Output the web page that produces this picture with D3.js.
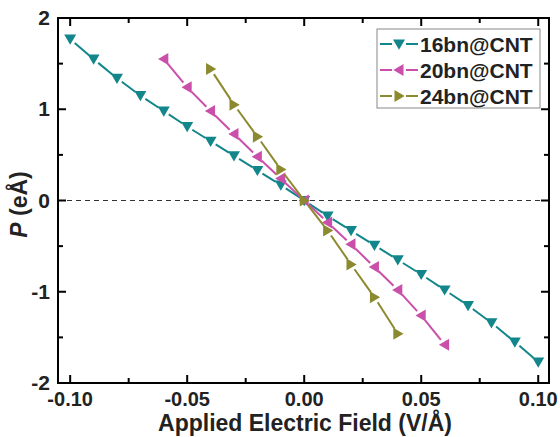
<!DOCTYPE html>
<html><head><meta charset="utf-8">
<script src="https://cdn.jsdelivr.net/npm/d3@7"></script>
<style>body{margin:0;background:#fff}svg{display:block}text{font-family:"Liberation Sans",Arial,sans-serif;font-weight:bold}</style>
</head><body><svg id="c" width="560" height="437"></svg>
<script>
const fields16 = [-0.10,-0.09,-0.08,-0.07,-0.06,-0.05,-0.04,-0.03,-0.02,-0.01,0,0.01,0.02,0.03,0.04,0.05,0.06,0.07,0.08,0.09,0.10];
const pol16 = [1.77,1.55,1.34,1.15,0.98,0.81,0.65,0.49,0.33,0.17,0,-0.17,-0.33,-0.49,-0.65,-0.81,-0.98,-1.15,-1.34,-1.55,-1.77];
const fields20 = [-0.06,-0.05,-0.04,-0.03,-0.02,-0.01,0,0.01,0.02,0.03,0.04,0.05,0.06];
const pol20 = [1.55,1.24,0.98,0.73,0.48,0.24,0,-0.24,-0.48,-0.73,-0.98,-1.26,-1.58];
const fields24 = [-0.04,-0.03,-0.02,-0.01,0,0.01,0.02,0.03,0.04];
const pol24 = [1.44,1.05,0.70,0.34,0,-0.33,-0.70,-1.06,-1.46];
const seriesNames = ["16bn@CNT","20bn@CNT","24bn@CNT"];
const seriesColors = ["#12868a","#c94fab","#8c8a2e"];
const seriesMarkers = ["down","left","right"];
const xTicks = [-0.10,-0.05,0.00,0.05,0.10];
const xTickLabels = ["-0.10","-0.05","0.00","0.05","0.10"];
const yTicks = [-2,-1,0,1,2];
const yTickLabels = ["-2","-1","0","1","2"];

const svg = d3.select("#c");
const L=58, R=549, T=18, B=383;
const x = d3.scaleLinear().domain([-0.1052,0.1046]).range([L,R]);
const y = d3.scaleLinear().domain([-2,2]).range([B,T]);

// zero dashed line
svg.append("line").attr("x1",L).attr("x2",R).attr("y1",y(0)).attr("y2",y(0))
  .attr("stroke","#333").attr("stroke-width",1).attr("stroke-dasharray","5,4");

const series = [[fields16,pol16],[fields20,pol20],[fields24,pol24]];
function tri(kind, s){
  const h=s;
  if(kind==="down") return `M${-h},${-h*0.75}L${h},${-h*0.75}L0,${h*0.95}Z`;
  if(kind==="left") return `M${h*0.75},${-h}L${h*0.75},${h}L${-h*0.95},0Z`;
  return `M${-h*0.75},${-h}L${-h*0.75},${h}L${h*0.95},0Z`;
}
series.forEach((s,i)=>{
  const pts = s[0].map((f,j)=>[x(f),y(s[1][j])]);
  const g = svg.append("g");
  const gap=6;
  for(let j=0;j<pts.length-1;j++){
    const [x1,y1]=pts[j],[x2,y2]=pts[j+1];
    const d=Math.hypot(x2-x1,y2-y1); if(d<2*gap) continue;
    const ux=(x2-x1)/d, uy=(y2-y1)/d;
    g.append("line").attr("x1",x1+ux*gap).attr("y1",y1+uy*gap).attr("x2",x2-ux*gap).attr("y2",y2-uy*gap)
      .attr("stroke",seriesColors[i]).attr("stroke-width",2);
  }
  g.selectAll("path").data(pts).join("path").attr("d",tri(seriesMarkers[i],6))
    .attr("transform",d=>`translate(${d[0]},${d[1]})`).attr("fill",seriesColors[i]);
});

// frame
svg.append("rect").attr("x",L).attr("y",T).attr("width",R-L).attr("height",B-T)
  .attr("fill","none").attr("stroke","#000").attr("stroke-width",2);

// axes with inward ticks
const xMinor = d3.range(-0.10,0.1001,0.025);
const yMinor = d3.range(-2,2.001,0.5);
const gx = svg.append("g");
xMinor.forEach(v=>{
  const major = xTicks.some(t=>Math.abs(t-v)<1e-6);
  const len = major?8:5;
  gx.append("line").attr("x1",x(v)).attr("x2",x(v)).attr("y1",B).attr("y2",B-len).attr("stroke","#000").attr("stroke-width",2);
  gx.append("line").attr("x1",x(v)).attr("x2",x(v)).attr("y1",T).attr("y2",T+len).attr("stroke","#000").attr("stroke-width",2);
});
yMinor.forEach(v=>{
  const major = yTicks.some(t=>Math.abs(t-v)<1e-6);
  const len = major?8:5;
  gx.append("line").attr("y1",y(v)).attr("y2",y(v)).attr("x1",L).attr("x2",L+len).attr("stroke","#000").attr("stroke-width",2);
  gx.append("line").attr("y1",y(v)).attr("y2",y(v)).attr("x1",R).attr("x2",R-len).attr("stroke","#000").attr("stroke-width",2);
});
xTicks.forEach((v,i)=>{
  svg.append("text").attr("x",x(v)).attr("y",406).attr("text-anchor","middle").attr("font-size",20).attr("fill","#222").text(xTickLabels[i]);
});
yTicks.forEach((v,i)=>{
  svg.append("text").attr("x",50).attr("y",y(v)+7).attr("text-anchor","end").attr("font-size",21).attr("fill","#222").text(yTickLabels[i]);
});
svg.append("text").attr("x",305).attr("y",431).attr("text-anchor","middle").attr("font-size",23).attr("fill","#222").text("Applied Electric Field (V/Å)");
const yl = svg.append("text").attr("transform",`translate(27,${y(0)+4}) rotate(-90)`).attr("text-anchor","middle").attr("font-size",23).attr("fill","#222");
yl.append("tspan").attr("font-style","italic").text("P");
yl.append("tspan").text(" (eÅ)");

// legend
const lg = svg.append("g");
lg.append("rect").attr("x",377).attr("y",29).attr("width",163).attr("height",79).attr("fill","#fff").attr("stroke","#888").attr("stroke-width",1);
seriesNames.forEach((n,i)=>{
  const yy = 44+i*26;
  lg.append("line").attr("x1",380).attr("x2",418).attr("y1",yy).attr("y2",yy).attr("stroke",seriesColors[i]).attr("stroke-width",2);
  lg.append("rect").attr("x",392).attr("y",yy-7).attr("width",14).attr("height",14).attr("fill","#fff");
  lg.append("path").attr("d",tri(seriesMarkers[i],6)).attr("transform",`translate(399,${yy})`).attr("fill",seriesColors[i]);
  lg.append("text").attr("x",420).attr("y",yy+8).attr("font-size",21).attr("fill","#222").text(n);
});
</script></body></html>
